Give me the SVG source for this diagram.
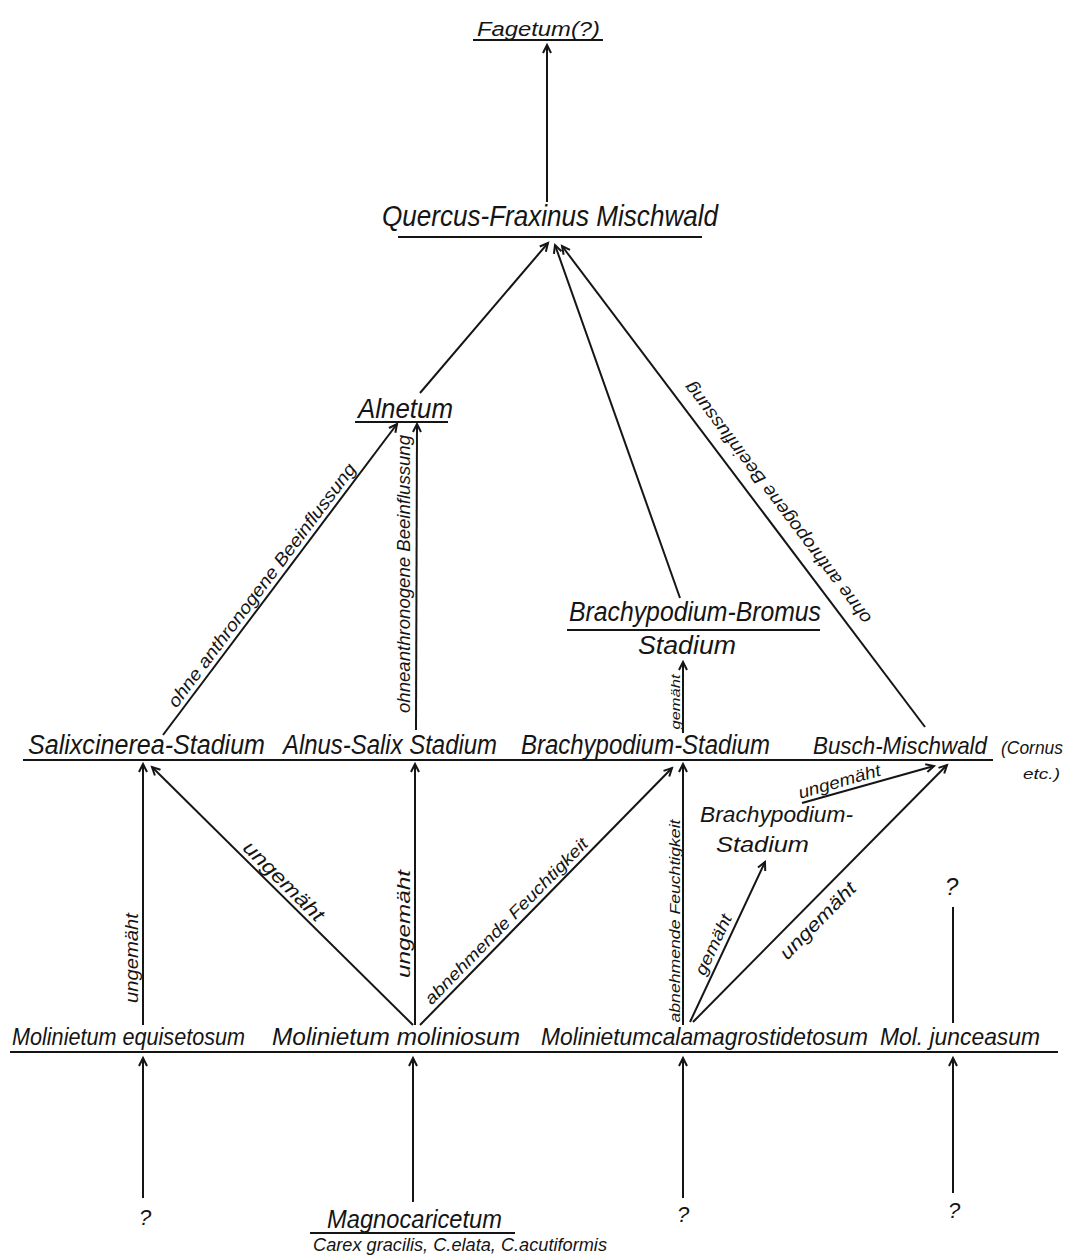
<svg xmlns="http://www.w3.org/2000/svg" width="1070" height="1260" viewBox="0 0 1070 1260">
<style>
.t{font-family:"Liberation Sans",sans-serif;font-style:italic;fill:#151515}
.n{font-size:27px}
.m{font-size:24px}
.l{font-size:18px}
.s{font-size:14px}
.u{stroke:#151515;stroke-width:2;fill:none}
.c{stroke:#151515;stroke-width:2;fill:none;marker-end:url(#ah)}
.c0{stroke:#151515;stroke-width:2;fill:none}
</style>
<defs>
<marker id="ah" markerUnits="userSpaceOnUse" markerWidth="14" markerHeight="12" viewBox="-10 -6 12 12" refX="0" refY="0" orient="auto">
<path d="M-8,-4 L0,0 L-8,4" stroke="#151515" stroke-width="2" fill="none"/>
</marker>
</defs>
<rect width="1070" height="1260" fill="#fff"/>

<g id="rows">
<line class="u" x1="23" y1="760" x2="993" y2="760"/>
<line class="u" x1="10" y1="1052" x2="1058" y2="1052"/>
</g>

<g id="fagetum">
<text class="t" x="477" y="36" font-size="20" textLength="123" lengthAdjust="spacingAndGlyphs">Fagetum(?)</text>
<line class="u" x1="473" y1="40" x2="603" y2="40"/>
</g>
<g id="quercus">
<text class="t" x="382" y="226" font-size="30" textLength="336" lengthAdjust="spacingAndGlyphs">Quercus-Fraxinus Mischwald</text>
<line class="u" x1="398" y1="237" x2="702" y2="237"/>
</g>
<g id="alnetum">
<text class="t n" x="358" y="418" textLength="95" lengthAdjust="spacingAndGlyphs">Alnetum</text>
<line class="u" x1="355" y1="422" x2="448" y2="422"/>
</g>
<g id="bromus">
<text class="t n" x="569" y="621" textLength="252" lengthAdjust="spacingAndGlyphs">Brachypodium-Bromus</text>
<line class="u" x1="567" y1="630" x2="820" y2="630"/>
<text class="t" x="638" y="654" font-size="25" textLength="98" lengthAdjust="spacingAndGlyphs">Stadium</text>
</g>
<g id="salix">
<text class="t n" x="28" y="754" textLength="237" lengthAdjust="spacingAndGlyphs">Salixcinerea-Stadium</text>
</g>
<g id="alnus-salix">
<text class="t n" x="283" y="754" textLength="214" lengthAdjust="spacingAndGlyphs">Alnus-Salix Stadium</text>
</g>
<g id="brachy">
<text class="t n" x="521" y="754" textLength="249" lengthAdjust="spacingAndGlyphs">Brachypodium-Stadium</text>
</g>
<g id="busch">
<text class="t" x="813" y="754" font-size="24" textLength="174" lengthAdjust="spacingAndGlyphs">Busch-Mischwald</text>
<text class="t" font-size="19"><tspan x="1001" y="754" textLength="62" lengthAdjust="spacingAndGlyphs">(Cornus</tspan><tspan x="1023" y="779" font-size="14" textLength="37" lengthAdjust="spacingAndGlyphs">etc.)</tspan></text>
</g>
<g id="brachy2">
<text class="t" x="700" y="822" font-size="22" textLength="153" lengthAdjust="spacingAndGlyphs">Brachypodium-</text>
<text class="t" x="716" y="852" font-size="22" textLength="93" lengthAdjust="spacingAndGlyphs">Stadium</text>
</g>
<g id="mol-equi">
<text class="t m" x="12" y="1045" textLength="233" lengthAdjust="spacingAndGlyphs">Molinietum equisetosum</text>
</g>
<g id="mol-mol">
<text class="t m" x="272" y="1045" textLength="248" lengthAdjust="spacingAndGlyphs">Molinietum moliniosum</text>
</g>
<g id="mol-cal">
<text class="t m" x="541" y="1045" textLength="327" lengthAdjust="spacingAndGlyphs">Molinietumcalamagrostidetosum</text>
</g>
<g id="mol-junc">
<text class="t m" x="880" y="1045" textLength="160" lengthAdjust="spacingAndGlyphs">Mol. junceasum</text>
</g>
<g id="magno">
<text class="t" x="327" y="1228" font-size="26" textLength="175" lengthAdjust="spacingAndGlyphs">Magnocaricetum</text>
<line class="u" x1="310" y1="1233" x2="515" y2="1233"/>
<text class="t" x="313" y="1251" font-size="18" textLength="294" lengthAdjust="spacingAndGlyphs">Carex gracilis, C.elata, C.acutiformis</text>
</g>
<g id="q1"><text class="t" x="945" y="895" font-size="24">?</text></g>
<g id="q2"><text class="t" x="139" y="1225" font-size="22">?</text></g>
<g id="q3"><text class="t" x="677" y="1222" font-size="22">?</text></g>
<g id="q4"><text class="t" x="948" y="1218" font-size="22">?</text></g>

<g id="connectors">
<path class="c" d="M547,202 L547,45"/>
<path class="c" d="M420,393 L548,243"/>
<path class="c" d="M680,598 L555,245"/>
<path class="c" d="M925,727 L562,246"/>
<path class="c" d="M163,735 L397,424"/>
<path class="c" d="M416,730 L417,424"/>
<path class="c" d="M683,733 L683,662"/>
<path class="c" d="M143,1025 L143,764"/>
<path class="c" d="M413,1025 L152,767"/>
<path class="c" d="M415,1025 L415,764"/>
<path class="c" d="M420,1025 L672,768"/>
<path class="c" d="M683,1025 L683,764"/>
<path class="c" d="M690,1022 L765,862"/>
<path class="c" d="M693,1022 L947,765"/>
<path class="c" d="M802,803 L934,766"/>
<path class="c0" d="M953,907 L953,1023"/>
<path class="c" d="M143,1198 L143,1058"/>
<path class="c" d="M413,1202 L413,1058"/>
<path class="c" d="M683,1198 L683,1058"/>
<path class="c" d="M953,1193 L953,1058"/>

<text class="t l" text-anchor="middle" transform="translate(266.6,588.9) rotate(-53.04)" textLength="300" lengthAdjust="spacingAndGlyphs">ohne anthronogene Beeinflussung</text>
<text class="t l" text-anchor="middle" transform="translate(410,574) rotate(-90)" textLength="278" lengthAdjust="spacingAndGlyphs">ohneanthronogene Beeinflussung</text>
<text class="t l" text-anchor="middle" transform="translate(782.3,499.4) rotate(-127.04)" textLength="298" lengthAdjust="spacingAndGlyphs">ohne anthropogene Beeinflussung</text>
<text class="t" font-size="13" text-anchor="middle" transform="translate(680,702) rotate(-90)" textLength="55" lengthAdjust="spacingAndGlyphs">gemäht</text>
<text class="t l" text-anchor="middle" transform="translate(138,958) rotate(-90)" textLength="90" lengthAdjust="spacingAndGlyphs">ungemäht</text>
<text class="t" font-size="20" text-anchor="middle" transform="translate(279,886) rotate(44.67)" textLength="105" lengthAdjust="spacingAndGlyphs">ungemäht</text>
<text class="t l" text-anchor="middle" transform="translate(410,924) rotate(-90)" textLength="108" lengthAdjust="spacingAndGlyphs">ungemäht</text>
<text class="t" font-size="17" text-anchor="middle" transform="translate(510.3,925.2) rotate(-45.56)" textLength="225" lengthAdjust="spacingAndGlyphs">abnehmende Feuchtigkeit</text>
<text class="t" font-size="15" text-anchor="middle" transform="translate(680,921) rotate(-90)" textLength="203" lengthAdjust="spacingAndGlyphs">abnehmende Feuchtigkeit</text>
<text class="t" font-size="17" text-anchor="middle" transform="translate(718.5,947) rotate(-64.9)" textLength="65" lengthAdjust="spacingAndGlyphs">gemäht</text>
<text class="t" font-size="19" text-anchor="middle" transform="translate(822.3,925.2) rotate(-45.3)" textLength="100" lengthAdjust="spacingAndGlyphs">ungemäht</text>
<text class="t" font-size="17" text-anchor="middle" transform="translate(841,787) rotate(-16)" textLength="85" lengthAdjust="spacingAndGlyphs">ungemäht</text>
</g>
</svg>
